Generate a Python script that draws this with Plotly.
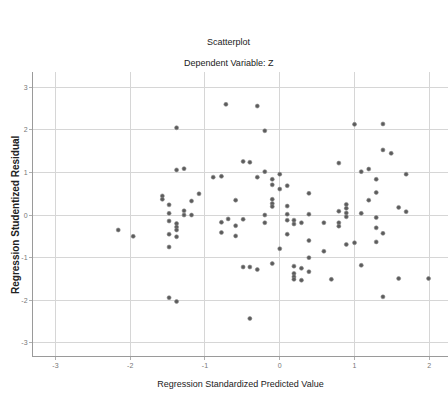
import plotly.graph_objects as go

# Regression Standardized Predicted Value (x) and Studentized Residual (y)
pred = [
    -2.16, -1.96, -1.38, -1.38, -1.28, -1.57, -1.57, -1.48, -1.48, -1.48,
    -1.48, -1.48, -1.38, -1.38, -1.38, -1.38, -1.28, -1.28, -1.18, -1.18,
    -1.08, -1.48, -1.38, -0.89, -0.78, -0.72, -0.59, -0.78, -0.78, -0.69,
    -0.59, -0.59, -0.49, -0.49, -0.49,
    -0.30, -0.20, -0.40, -0.20, -0.30, -0.10, -0.10, 0.00, 0.00, 0.10,
    -0.10, -0.10, -0.10, -0.20, -0.20, 0.10, 0.10, 0.10, 0.10, 0.00,
    0.19, 0.19, 0.29, 0.39, 0.39, 0.39, 0.39, 0.39, 0.29, 0.19,
    0.19, 0.19, 0.19, 0.29, -0.10, -0.40, -0.30, -0.40, 0.59, 0.59,
    0.69, 0.79, 0.79, 0.79, 0.79, 0.89, 0.89, 0.89, 0.89, 0.89,
    1.00, 1.00, 1.09, 1.09, 1.09, 1.19, 1.19, 1.29, 1.29, 1.29,
    1.29, 1.29, 1.38, 1.38, 1.49, 1.38, 1.38, 1.59, 1.69, 1.69,
    1.59, 1.99,
]
resid = [
    -0.35, -0.50, 2.05, 1.06, 1.09, 0.45, 0.37, 0.24, 0.04, -0.14,
    -0.45, -0.75, -0.20, -0.28, -0.35, -0.51, 0.10, 0.00, 0.00, 0.33,
    0.50, -1.94, -2.03, 0.89, 0.91, 2.60, 0.35, -0.17, -0.41, -0.09,
    -0.25, -0.49, 1.26, -0.10, -1.22,
    2.56, 1.98, 1.24, 1.02, 0.89, 0.84, 0.71, 0.96, 0.61, 0.69,
    0.37, 0.27, 0.20, 0.00, -0.18, 0.21, 0.02, -0.12, -0.45, -0.79,
    -0.12, -0.21, -0.18, 0.51, 0.02, -0.60, -1.00, -1.33, -1.25, -1.20,
    -1.37, -1.45, -1.51, -1.53, -1.14, -1.22, -1.28, -2.43, -0.18, -0.85,
    -1.51, 1.22, 0.09, -0.18, -0.26, 0.25, 0.16, 0.05, -0.04, -0.69,
    2.13, -0.65, 1.02, 0.04, -1.18, 1.08, 0.35, 0.84, 0.53, -0.06,
    -0.30, -0.63, 2.14, 1.53, 1.45, -0.43, -1.92, 0.18, 0.08, 0.96,
    -1.49, -1.49,
]

x_ticks = [-3, -2, -1, 0, 1, 2]
y_ticks = [-3, -2, -1, 0, 1, 2, 3]

FONT = "Liberation Sans Narrow, Liberation Sans, Arial, sans-serif"

L, T, B = 33, 72, 40
PW, PH = 448 - L, 396 - T - B

fig = go.Figure(
    go.Scatter(
        x=pred, y=resid, mode="markers",
        marker=dict(size=4, color="#5c5c5c", line=dict(color="#8a8a8a", width=0.6)),
        hoverinfo="skip", showlegend=False,
    )
)

fig.update_layout(
    width=448, height=396,
    margin=dict(l=L, r=0, t=T, b=B),
    paper_bgcolor="white", plot_bgcolor="white",
    font=dict(family=FONT, color="#333333"),
    annotations=[
        dict(text="Scatterplot", xref="paper", yref="paper", x=(229 - L) / PW,
             y=1 + (T - 42) / PH, showarrow=False, xanchor="center", yanchor="middle",
             font=dict(size=9, color="#222222", family=FONT)),
        dict(text="Dependent Variable: Z", xref="paper", yref="paper", x=(229 - L) / PW,
             y=1 + (T - 63) / PH, showarrow=False, xanchor="center", yanchor="middle",
             font=dict(size=9, color="#222222", family=FONT)),
        dict(text="<b>Regression Studentized Residual</b>", xref="paper", yref="paper",
             x=(15 - L) / PW, y=1 - (215 - T) / PH, textangle=-90, showarrow=False,
             xanchor="center", yanchor="middle",
             font=dict(size=10, color="#222222", family=FONT)),
    ],
)

fig.update_xaxes(
    range=[-3.30, 2.25], tickvals=x_ticks, ticktext=[str(v) for v in x_ticks],
    showgrid=True, gridcolor="#d6d6d6", gridwidth=1, zeroline=False,
    showline=True, linecolor="#9a9a9a", linewidth=1,
    ticks="outside", ticklen=3, tickcolor="#b0b0b0",
    tickfont=dict(size=7, color="#777777"),
    title=dict(text="Regression Standardized Predicted Value",
               font=dict(size=9, color="#222222", family=FONT), standoff=12),
)
fig.update_yaxes(
    range=[-3.31, 3.36], tickvals=y_ticks, ticktext=[str(v) for v in y_ticks],
    showgrid=True, gridcolor="#d6d6d6", gridwidth=1, zeroline=False,
    showline=True, linecolor="#9a9a9a", linewidth=1,
    ticks="outside", ticklen=3, tickcolor="#b0b0b0",
    tickfont=dict(size=7, color="#777777"),
)

fig.write_html("out.html")
